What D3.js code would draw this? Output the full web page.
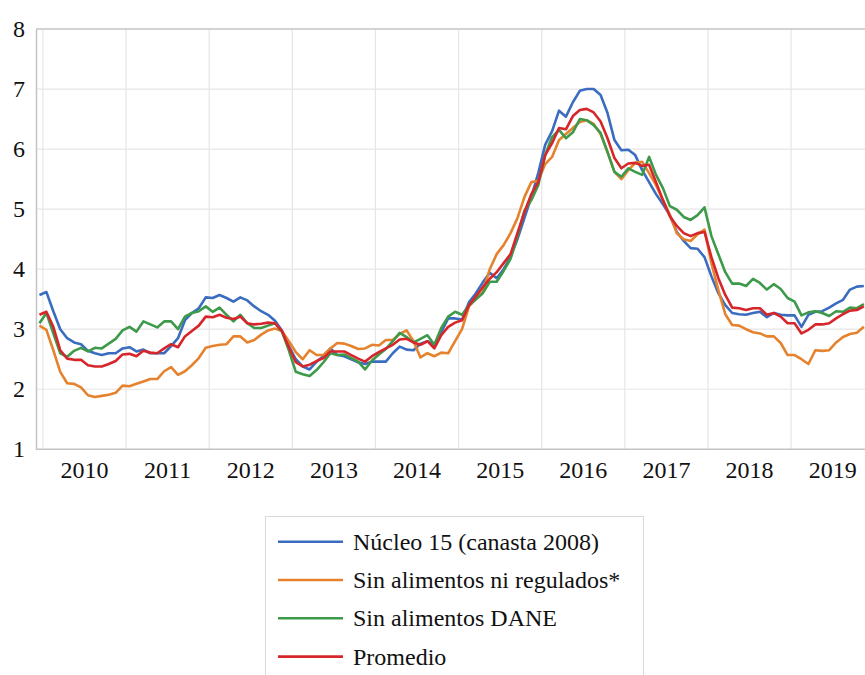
<!DOCTYPE html>
<html><head><meta charset="utf-8">
<script src="https://cdn.jsdelivr.net/npm/d3@7"></script>
<style>
html,body{margin:0;padding:0;background:#fff;}
svg{display:block;}
</style></head><body>
<svg id="chart" width="865" height="675"></svg>
<script>
// Monthly series, Dec 2009 .. Nov 2019 (annual % change)
const startYear = 2009, startMonth = 11; // December 2009 (0-based month)
const yearLabels = ["2010","2011","2012","2013","2014","2015","2016","2017","2018","2019"];
const yTicks = [1,2,3,4,5,6,7,8];
const seriesNames = ["Núcleo 15 (canasta 2008)","Sin alimentos ni regulados*","Sin alimentos DANE","Promedio"];

const nucleo15 = [3.57,3.62,3.3,3.0,2.85,2.78,2.75,2.64,2.6,2.57,2.6,2.6,
2.68,2.7,2.63,2.66,2.6,2.6,2.6,2.72,2.85,3.15,3.27,3.35,
3.53,3.52,3.57,3.52,3.46,3.53,3.48,3.38,3.3,3.24,3.14,2.98,
2.72,2.5,2.38,2.33,2.46,2.55,2.68,2.57,2.55,2.5,2.45,2.42,
2.46,2.46,2.46,2.6,2.71,2.66,2.65,2.76,2.8,2.74,2.95,3.18,
3.18,3.16,3.45,3.6,3.78,3.94,3.85,4.0,4.2,4.5,4.85,5.2,
5.6,6.07,6.3,6.64,6.54,6.78,6.97,7.0,7.0,6.9,6.6,6.15,
5.98,5.99,5.9,5.65,5.45,5.25,5.08,4.9,4.62,4.47,4.35,4.34,
4.2,3.88,3.6,3.4,3.27,3.25,3.24,3.27,3.29,3.2,3.27,3.24,
3.23,3.23,3.04,3.24,3.29,3.3,3.36,3.43,3.49,3.66,3.71,3.72];

const sinAlimReg = [3.06,2.99,2.65,2.29,2.1,2.09,2.03,1.9,1.87,1.89,1.91,1.94,
2.06,2.05,2.09,2.13,2.17,2.17,2.3,2.37,2.24,2.3,2.4,2.52,
2.69,2.72,2.74,2.75,2.88,2.88,2.78,2.82,2.91,2.98,3.01,2.97,
2.8,2.62,2.5,2.65,2.57,2.57,2.68,2.77,2.76,2.72,2.67,2.68,
2.74,2.73,2.82,2.82,2.92,2.98,2.8,2.53,2.6,2.55,2.61,2.6,
2.8,3.0,3.38,3.5,3.62,4.0,4.25,4.4,4.6,4.85,5.2,5.45,
5.47,5.75,5.87,6.15,6.25,6.35,6.45,6.48,6.42,6.25,5.95,5.62,
5.5,5.65,5.77,5.79,5.6,5.4,5.15,4.9,4.6,4.5,4.47,4.58,
4.66,4.1,3.65,3.25,3.07,3.06,3.0,2.95,2.93,2.88,2.88,2.77,
2.57,2.57,2.5,2.42,2.65,2.64,2.65,2.78,2.87,2.92,2.94,3.04];

const sinAlimDane = [3.1,3.27,2.93,2.6,2.54,2.64,2.69,2.63,2.69,2.68,2.76,2.84,
2.98,3.04,2.96,3.13,3.08,3.03,3.13,3.13,3.0,3.21,3.27,3.3,
3.38,3.29,3.36,3.24,3.13,3.24,3.1,3.02,3.02,3.06,3.1,2.96,
2.65,2.29,2.25,2.22,2.32,2.45,2.6,2.57,2.58,2.52,2.46,2.33,
2.48,2.58,2.67,2.8,2.94,2.87,2.78,2.84,2.9,2.74,3.02,3.21,
3.29,3.24,3.4,3.5,3.6,3.79,3.79,3.97,4.17,4.55,4.97,5.15,
5.4,5.9,6.2,6.32,6.18,6.28,6.5,6.48,6.4,6.27,5.95,5.62,
5.54,5.68,5.62,5.57,5.87,5.57,5.35,5.05,4.99,4.87,4.82,4.9,
5.03,4.55,4.25,3.95,3.76,3.76,3.72,3.84,3.77,3.66,3.75,3.67,
3.52,3.46,3.23,3.28,3.3,3.27,3.22,3.3,3.29,3.36,3.35,3.42];

const promedio = [3.24,3.29,3.04,2.65,2.51,2.49,2.49,2.4,2.38,2.38,2.42,2.47,
2.58,2.59,2.55,2.64,2.61,2.6,2.68,2.75,2.7,2.88,2.97,3.06,
3.21,3.2,3.24,3.19,3.17,3.21,3.1,3.08,3.09,3.11,3.1,2.97,
2.7,2.45,2.38,2.41,2.47,2.52,2.63,2.63,2.63,2.57,2.51,2.46,
2.55,2.62,2.68,2.74,2.83,2.84,2.78,2.74,2.8,2.68,2.9,3.04,
3.11,3.15,3.4,3.55,3.7,3.84,3.95,4.1,4.25,4.6,4.95,5.25,
5.45,5.9,6.1,6.35,6.33,6.55,6.65,6.67,6.61,6.46,6.18,5.85,
5.68,5.76,5.77,5.72,5.74,5.45,5.15,4.88,4.72,4.6,4.55,4.6,
4.62,4.2,3.85,3.57,3.36,3.35,3.32,3.35,3.35,3.24,3.27,3.21,
3.1,3.1,2.93,2.99,3.08,3.08,3.1,3.18,3.25,3.31,3.32,3.38];

const seriesValues = [nucleo15, sinAlimReg, sinAlimDane, promedio];
const colors = ["#3a6dbf","#e6822e","#3c9a4a","#d7262b"];
const FONT = "'Liberation Serif', 'Times New Roman', serif";

// month categories
const months = nucleo15.map((_, i) => {
  const m = startMonth + i;
  return (startYear + Math.floor(m / 12)) + "-" + String(m % 12 + 1).padStart(2, "0");
});

const svg = d3.select("#chart");
const plotLeft = 36, plotTop = 29, plotBottom = 449.3;
const bw = 83.13 / 12;
const x = d3.scaleBand().domain(months).range([plotLeft, plotLeft + months.length * bw]).padding(0);
const y = d3.scaleLinear().domain([1, 8]).range([plotBottom, plotTop]);
const xc = m => x(m) + x.bandwidth() / 2;

// horizontal gridlines
svg.append("g").selectAll("line").data(yTicks.slice(1, -1)).join("line")
  .attr("x1", plotLeft).attr("x2", 865).attr("y1", d => y(d)).attr("y2", d => y(d))
  .attr("stroke", "#e6e6e6").attr("stroke-width", 1.2);
// vertical gridlines at each January
const jans = months.filter(m => m.endsWith("-01"));
svg.append("g").selectAll("line").data(jans).join("line")
  .attr("x1", d => x(d)).attr("x2", d => x(d)).attr("y1", plotTop).attr("y2", plotBottom)
  .attr("stroke", "#e6e6e6").attr("stroke-width", 1.2);

// frame line at top
svg.append("line").attr("x1", plotLeft).attr("x2", 865).attr("y1", y(8)).attr("y2", y(8))
  .attr("stroke", "#c4c4c4").attr("stroke-width", 1.5);

// y axis
const yAxis = svg.append("g").attr("transform", `translate(${plotLeft},0)`)
  .call(d3.axisLeft(y).tickValues(yTicks).tickSize(0).tickPadding(11).tickFormat(d3.format("d")));
yAxis.select(".domain").attr("stroke", "#c4c4c4").attr("stroke-width", 1.5);

// x axis with years
const x0 = x(months.find(m => m.startsWith("2010")));
const yearScale = d3.scaleBand().domain(yearLabels).range([x0, x0 + yearLabels.length * 12 * bw]);
const xAxis = svg.append("g").attr("transform", `translate(0,${plotBottom})`)
  .call(d3.axisBottom(yearScale).tickSize(0).tickPadding(12));
xAxis.select(".domain").remove();
svg.append("line").attr("x1", plotLeft).attr("x2", 865).attr("y1", plotBottom).attr("y2", plotBottom)
  .attr("stroke", "#c4c4c4").attr("stroke-width", 1.5);
svg.selectAll(".tick text").attr("font-family", FONT).attr("font-size", 24)
  .style("font-family", FONT).style("font-size", "24px").attr("fill", "#111");

// lines
const line = d3.line().x((d, i) => xc(months[i])).y(d => y(d));
svg.append("g").selectAll("path").data(seriesValues).join("path")
  .attr("d", d => line(d)).attr("fill", "none")
  .attr("stroke", (d, i) => colors[i]).attr("stroke-width", 2.6)
  .attr("stroke-linejoin", "round");

// legend
const lg = svg.append("g");
lg.append("rect").attr("x", 265.5).attr("y", 516.5).attr("width", 378).attr("height", 200)
  .attr("fill", "#fff").attr("stroke", "#d9d9d9").attr("stroke-width", 1);
const rows = lg.selectAll("g.row").data(seriesNames).join("g")
  .attr("transform", (d, i) => `translate(0,${541.7 + i * 38.3})`);
rows.append("line").attr("x1", 278).attr("x2", 343).attr("y1", 0).attr("y2", 0)
  .attr("stroke", (d, i) => colors[i]).attr("stroke-width", 2.6);
rows.append("text").attr("x", 353).attr("y", 0).attr("dy", "0.34em")
  .attr("font-family", FONT).attr("font-size", 24)
  .style("font-family", FONT).style("font-size", "24px").attr("fill", "#111").text(d => d);
</script>
</body></html>
